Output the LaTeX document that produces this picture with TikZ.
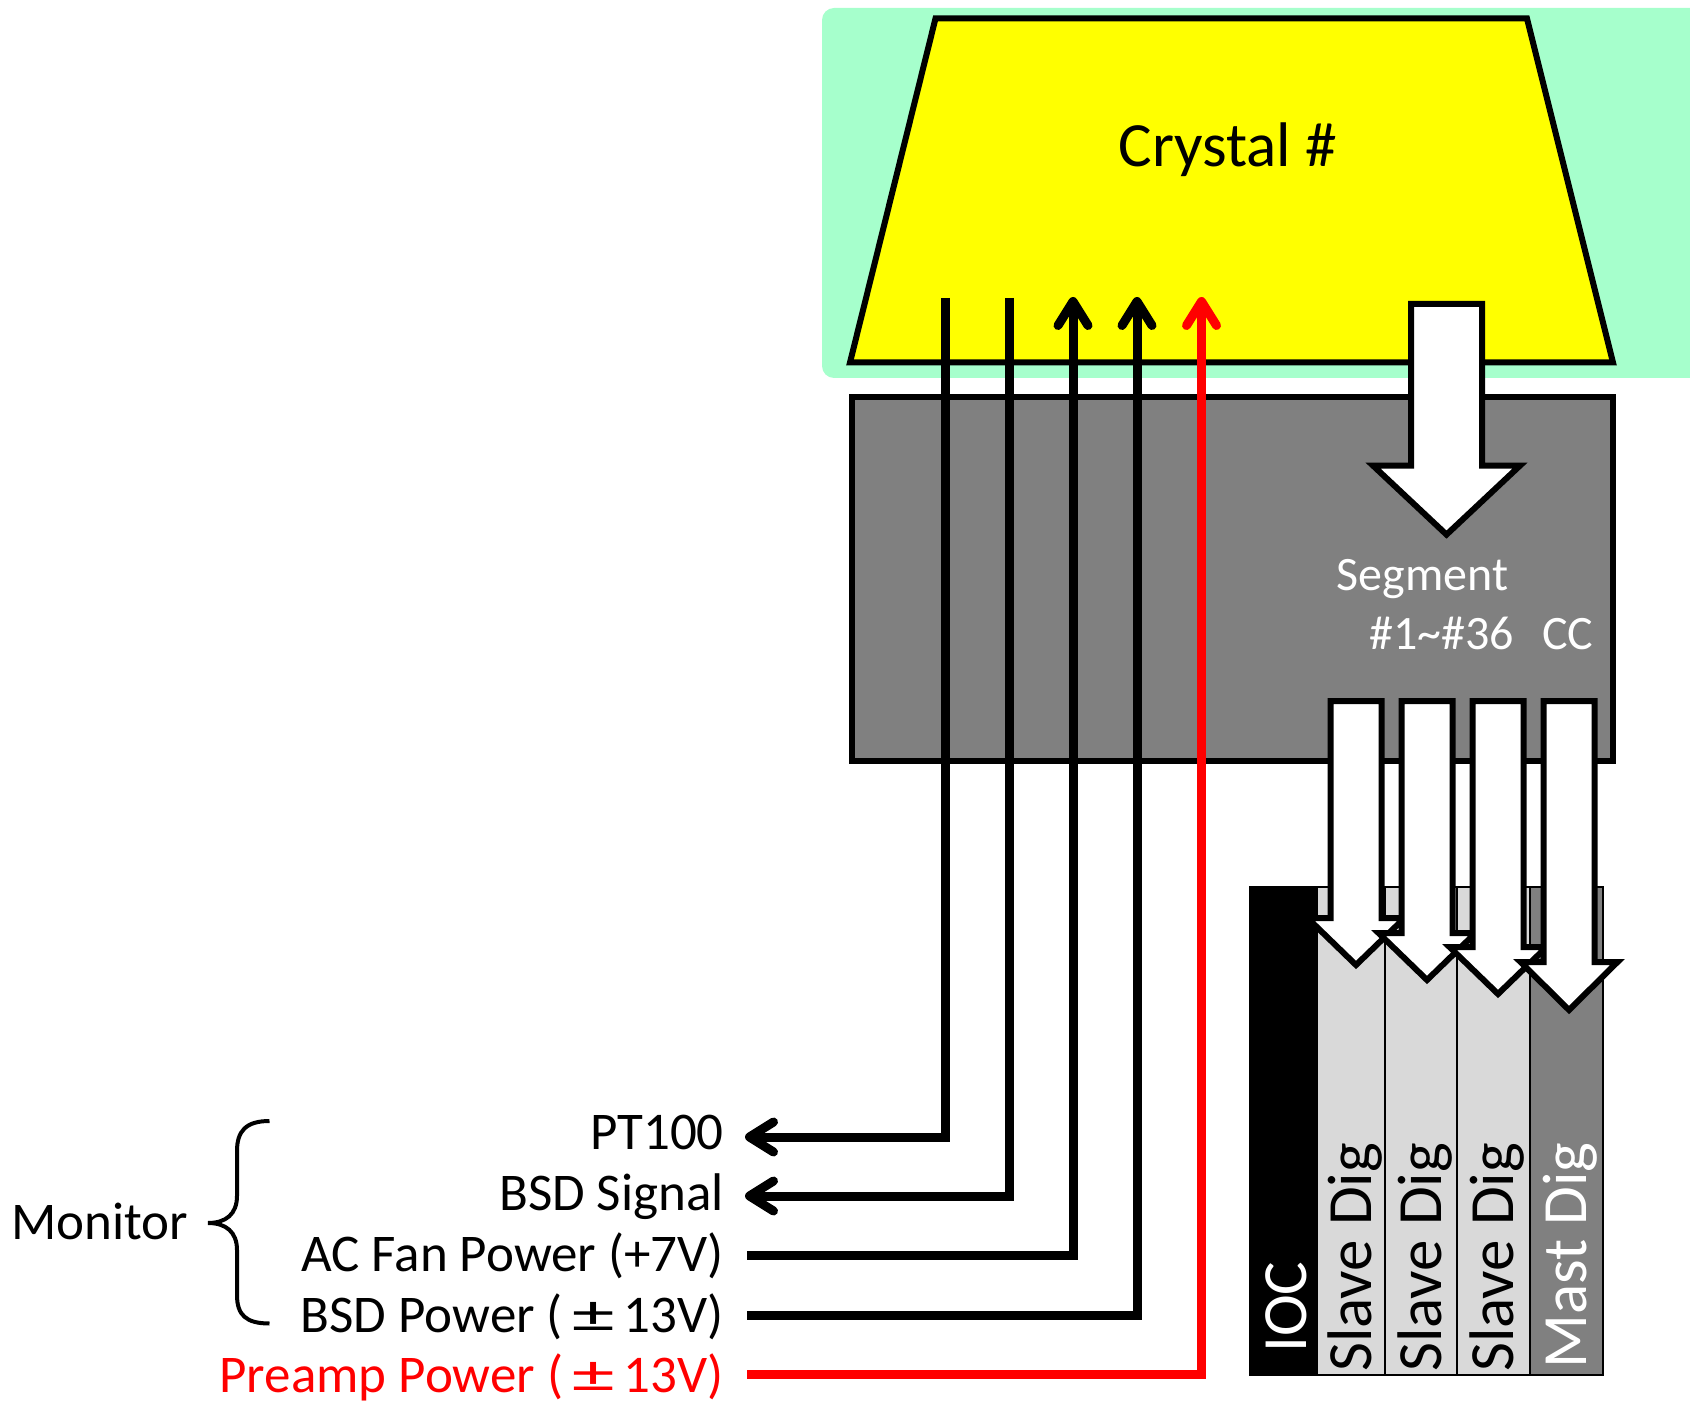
\documentclass[tikz,border=0pt]{standalone}
\usepackage{fontspec}
\usepackage{graphicx}
\setmainfont{Carlito}
\usetikzlibrary{arrows.meta}
\definecolor{bggreen}{HTML}{A6FFCC}
\definecolor{boxgray}{HTML}{808080}
\definecolor{slavegray}{HTML}{D9D9D9}
\definecolor{pwred}{HTML}{FF0000}
\definecolor{cyellow}{HTML}{FFFF00}
\tikzset{
  sigline/.style={line width=9pt, -{Straight Barb[length=24pt,width=30pt,round]}},
  lbl/.style={anchor=base east, inner sep=0pt, font=\fontsize{53}{60}\selectfont},
  seglbl/.style={inner sep=0pt, text=white, font=\fontsize{48}{56}\selectfont},
  boardlbl/.style={rotate=90, anchor=west, inner sep=0pt, font=\fontsize{63}{70}\selectfont},
  bigarrow/.style={draw=black, fill=white, line width=6pt, line join=miter},
  board/.style={draw=black, line width=2.5pt},
}
\newcommand{\pmw}{\makebox[1.15em][c]{\scalebox{1.6}[1]{±}}}
\begin{document}
\begin{tikzpicture}[x=1pt,y=-1pt]
\useasboundingbox (0,0) rectangle (1690,1404);
% background
\fill[bggreen, rounded corners=12pt] (822,8) rectangle (1730,378);
% crystal trapezoid
\draw[fill=cyellow, line width=6pt, line join=miter] (935.5,18.5) -- (1527,18.5) -- (1613,362.5) -- (850,362.5) -- cycle;
\node[anchor=base, inner sep=0pt, font=\fontsize{63}{70}\selectfont] (crystal) at (1227.6,167) {Crystal \#};
% gray box
\draw[fill=boxgray, line width=6pt] (851.5,397) rectangle (1613,761);
% segment arrow
\draw[bigarrow] (1411,304) -- (1482,304) -- (1482,465.6) -- (1520,465.6) -- (1446.5,534.6) -- (1373,465.6) -- (1411,465.6) -- cycle;
\node[seglbl, anchor=base] (seg) at (1422.7,590.6) {Segment};
\node[seglbl, anchor=base west] (segnum) at (1369,649) {\#1\textasciitilde\#36};
\node[seglbl, anchor=base west] (cc) at (1542,649) {CC};
% digitizer boards
\draw[board, fill=black] (1250,887) rectangle (1317,1375);
\draw[board, fill=slavegray] (1317,887) rectangle (1385,1375);
\draw[board, fill=slavegray] (1385,887) rectangle (1457,1375);
\draw[board, fill=slavegray] (1457,887) rectangle (1530,1375);
\draw[board, fill=boxgray] (1530,887) rectangle (1603,1375);
\node[boardlbl, text=white] (ioc) at (1286,1353) {IOC};
\node[boardlbl, text=black] (sd1) at (1355,1372) {Slave Dig};
\node[boardlbl, text=black] (sd2) at (1425,1372) {Slave Dig};
\node[boardlbl, text=black] (sd3) at (1497.5,1372) {Slave Dig};
\node[boardlbl, text=white] (md) at (1570,1369) {Mast Dig};
% four arrows
\foreach \cx/\hy/\ty in {1356/918/965, 1427/933/980, 1498/947/994, 1569/962/1010}{
  \draw[bigarrow] (\cx-25.5,701) -- (\cx+25.5,701) -- (\cx+25.5,\hy) -- (\cx+48.5,\hy) -- (\cx,\ty) -- (\cx-48.5,\hy) -- (\cx-25.5,\hy) -- cycle;
}
% labels
\node[lbl] (lpt) at (724,1149.5) {PT100};
\node[lbl] (lbs) at (724,1210) {BSD Signal};
\node[lbl] (lac) at (724,1271) {AC Fan Power (+7V)};
\node[lbl] (lbp) at (724,1332) {BSD Power (\pmw13V)};
\node[lbl, text=pwred] (lpre) at (724,1392.5) {Preamp Power (\pmw13V)};
\node[anchor=base west, inner sep=0pt, font=\fontsize{53}{60}\selectfont] (mon) at (11,1239.5) {Monitor};
% wires
\coordinate (t1) at (945,298);
\coordinate (t2) at (1009,298);
\coordinate (t3) at (1073,297);
\coordinate (t4) at (1137,297);
\coordinate (t5) at (1201.5,297);
\coordinate (e1) at (745,1137);
\coordinate (e2) at (745,1196);
\coordinate (e3) at (747,1255.5);
\coordinate (e4) at (747,1315);
\coordinate (e5) at (747,1374);
\draw[sigline] (t1) |- (e1);
\draw[sigline] (t2) |- (e2);
\draw[sigline] (e3) -| (t3);
\draw[sigline] (e4) -| (t4);
\draw[sigline, draw=pwred] (e5) -| (t5);
% brace
\draw[line width=4pt] (269.5,1121) .. controls (246,1121) and (237,1131) .. (237,1151) -- (237,1196) .. controls (237,1214) and (226,1223) .. (208,1223) .. controls (226,1223) and (237,1232) .. (237,1250) -- (237,1295) .. controls (237,1315) and (246,1323.5) .. (269.5,1323.5);
\end{tikzpicture}
\end{document}
